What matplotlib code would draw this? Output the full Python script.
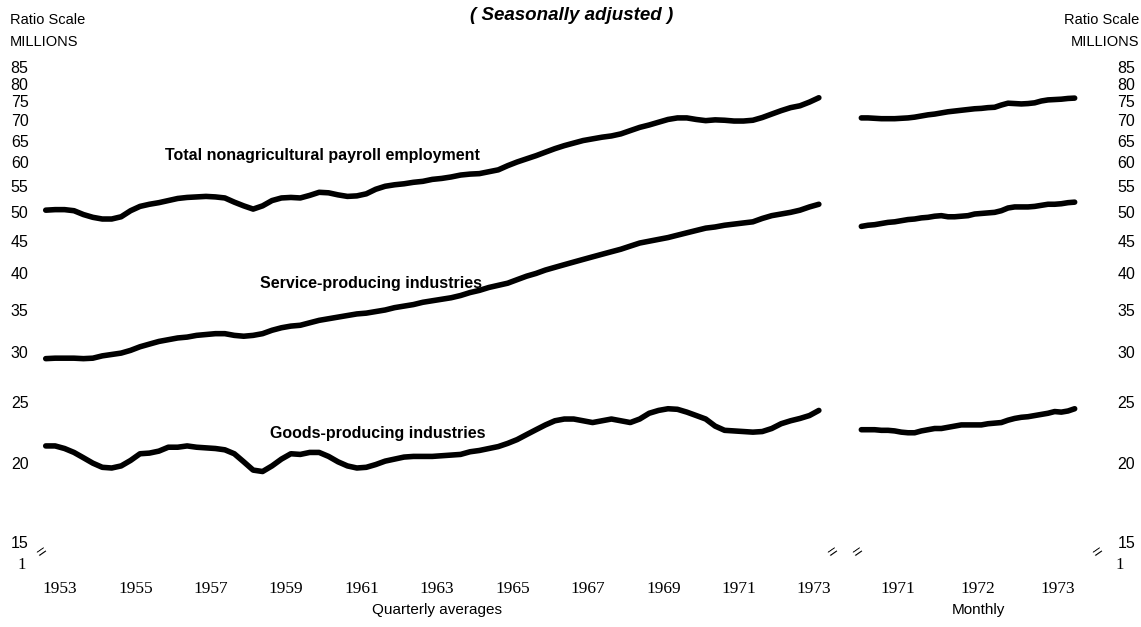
import numpy as np
import matplotlib.pyplot as plt

# quarterly averages, 1953 Q1 - 1973 Q3 (millions)
total_q = [50.4, 50.5, 50.5, 50.3, 49.6, 49.1, 48.8, 48.8, 49.2, 50.3,
           51.1, 51.5, 51.8, 52.2, 52.6, 52.8, 52.9, 53.0, 52.9, 52.7,
           51.9, 51.2, 50.6, 51.2, 52.2, 52.7, 52.8, 52.7, 53.2, 53.8,
           53.7, 53.3, 53.0, 53.1, 53.5, 54.4, 55.0, 55.3, 55.5, 55.8,
           56.0, 56.4, 56.6, 56.9, 57.3, 57.5, 57.6, 58.0, 58.4, 59.3,
           60.1, 60.8, 61.5, 62.3, 63.1, 63.8, 64.4, 65.0, 65.4, 65.8,
           66.1, 66.6, 67.4, 68.2, 68.8, 69.5, 70.2, 70.6, 70.6, 70.2,
           69.9, 70.1, 70.0, 69.8, 69.8, 70.0, 70.7, 71.6, 72.5, 73.3,
           73.8, 74.8, 76.0]
service_q = [29.3, 29.35, 29.35, 29.35, 29.3, 29.35, 29.6, 29.75, 29.9, 30.2,
             30.6, 30.9, 31.2, 31.4, 31.6, 31.7, 31.9, 32.0, 32.1, 32.1,
             31.9, 31.8, 31.9, 32.1, 32.5, 32.8, 33.0, 33.1, 33.4, 33.7,
             33.9, 34.1, 34.3, 34.5, 34.6, 34.8, 35.0, 35.3, 35.5, 35.7,
             36.0, 36.2, 36.4, 36.6, 36.9, 37.3, 37.6, 38.0, 38.3, 38.6,
             39.1, 39.6, 40.0, 40.5, 40.9, 41.3, 41.7, 42.1, 42.5, 42.9,
             43.3, 43.7, 44.2, 44.7, 45.0, 45.3, 45.6, 46.0, 46.4, 46.8,
             47.2, 47.4, 47.7, 47.9, 48.1, 48.3, 48.9, 49.4, 49.7, 50.0,
             50.4, 51.0, 51.5]
goods_q = [21.3, 21.3, 21.1, 20.8, 20.4, 20.0, 19.7, 19.65, 19.8, 20.2,
           20.7, 20.75, 20.9, 21.2, 21.2, 21.3, 21.2, 21.15, 21.1, 21.0,
           20.7, 20.1, 19.5, 19.4, 19.8, 20.3, 20.7, 20.65, 20.8, 20.8,
           20.5, 20.1, 19.8, 19.65, 19.7, 19.9, 20.15, 20.3, 20.45, 20.5,
           20.5, 20.5, 20.55, 20.6, 20.65, 20.85, 20.95, 21.1, 21.25, 21.5,
           21.8, 22.2, 22.6, 23.0, 23.35, 23.5, 23.5, 23.35, 23.2, 23.35,
           23.5, 23.35, 23.2, 23.5, 24.0, 24.25, 24.4, 24.35, 24.1, 23.8,
           23.5, 22.9, 22.55, 22.5, 22.45, 22.4, 22.45, 22.7, 23.1, 23.35,
           23.55, 23.8, 24.25]

# monthly, Jan 1971 - Sep 1973 (millions)
total_m = [70.6, 70.6, 70.5, 70.4, 70.4, 70.4, 70.5, 70.6, 70.8, 71.1,
           71.4, 71.6, 71.9, 72.2, 72.4, 72.6, 72.8, 73.0, 73.1, 73.3,
           73.4, 74.0, 74.5, 74.4, 74.3, 74.4, 74.6, 75.1, 75.4, 75.5,
           75.6, 75.8, 75.9]
service_m = [47.5, 47.7, 47.8, 48.0, 48.2, 48.3, 48.5, 48.7, 48.8, 49.0,
             49.1, 49.3, 49.4, 49.2, 49.2, 49.3, 49.4, 49.7, 49.8, 49.9,
             50.0, 50.3, 50.8, 51.0, 51.0, 51.0, 51.1, 51.3, 51.5, 51.5,
             51.6, 51.8, 51.9]
goods_m = [22.6, 22.6, 22.6, 22.55, 22.55, 22.5, 22.4, 22.35, 22.35, 22.5,
           22.6, 22.7, 22.7, 22.8, 22.9, 23.0, 23.0, 23.0, 23.0, 23.1,
           23.15, 23.2, 23.4, 23.55, 23.65, 23.7, 23.8, 23.9, 24.0, 24.15,
           24.1, 24.2, 24.4]

y_ticks = [15, 20, 25, 30, 35, 40, 45, 50, 55, 60, 65, 70, 75, 80, 85]
q_years = [1953, 1955, 1957, 1959, 1961, 1963, 1965, 1967, 1969, 1971, 1973]
m_years = [1971, 1972, 1973]

sans = ['Liberation Sans', 'DejaVu Sans']
serif = ['Liberation Serif', 'DejaVu Serif']

W, H = 1141, 627
fig = plt.figure(figsize=(W / 100, H / 100), dpi=100)
ax1 = fig.add_axes([41 / W, 1 - 555 / H, 792 / W, 493 / H])
ax2 = fig.add_axes([858 / W, 1 - 555 / H, 240 / W, 493 / H])

xq = 1953 + 0.125 + 0.25 * np.arange(len(total_q))
xm = 1971 + (np.arange(len(total_m)) + 0.5) / 12

for s in [total_q, service_q, goods_q]:
    ax1.plot(xq, s, color='black', lw=4, solid_capstyle='round', solid_joinstyle='round')
for s in [total_m, service_m, goods_m]:
    ax2.plot(xm, s, color='black', lw=4, solid_capstyle='round', solid_joinstyle='round')

for ax in [ax1, ax2]:
    ax.set_yscale('log')
    ax.set_ylim(14.3, 86.6)
    ax.set_yticks(y_ticks)
    ax.minorticks_off()
    for sp in ax.spines.values():
        sp.set_visible(False)

ax1.set_xlim(1953, 1974)
ax2.set_xlim(1971, 1974)

ax1.set_yticklabels([str(v) for v in y_ticks], family=sans, fontsize=11.5)
ax1.tick_params(axis='y', length=0, pad=9)
ax2.yaxis.tick_right()
ax2.set_yticklabels([str(v) for v in y_ticks], family=sans, fontsize=11.5)
ax2.tick_params(axis='y', length=0, pad=14)

ax1.set_xticks([y + 0.5 for y in q_years])
ax1.set_xticklabels([str(y) for y in q_years], family=serif, fontsize=12.5)
ax2.set_xticks([y + 0.5 for y in m_years])
ax2.set_xticklabels([str(y) for y in m_years], family=serif, fontsize=12.5)
for ax in [ax1, ax2]:
    ax.tick_params(axis='x', length=0, pad=19)

ax1.set_xlabel('Quarterly averages', family=sans, fontsize=11, labelpad=4)
ax2.set_xlabel('Monthly', family=sans, fontsize=11, labelpad=4)

# series labels
ax1.text(1956.29, 61.6, 'Total nonagricultural payroll employment', family=sans,
         fontsize=11.5, fontweight='bold', va='center', ha='left')
ax1.text(1958.81, 38.6, 'Service-producing industries', family=sans,
         fontsize=11.5, fontweight='bold', va='center', ha='left')
ax1.text(1959.07, 22.26, 'Goods-producing industries', family=sans,
         fontsize=11.5, fontweight='bold', va='center', ha='left')

# header texts
fig.text(572 / W, 1 - 15 / H, '( Seasonally adjusted )', family=sans, fontsize=13.5,
         fontweight='bold', fontstyle='italic', ha='center', va='center')
fig.text(10 / W, 1 - 20 / H, 'Ratio Scale', family=sans, fontsize=10.5, va='center')
fig.text(10 / W, 1 - 42 / H, 'MILLIONS', family=sans, fontsize=10.5, va='center')
fig.text(1139 / W, 1 - 20 / H, 'Ratio Scale', family=sans, fontsize=10.5, va='center', ha='right')
fig.text(1139 / W, 1 - 42 / H, 'MILLIONS', family=sans, fontsize=10.5, va='center', ha='right')

# broken-scale marks and the origin "1"
fig.text(22 / W, 1 - 565 / H, '1', family=serif, fontsize=12, ha='center', va='center')
fig.text(1120 / W, 1 - 565 / H, '1', family=serif, fontsize=12, ha='center', va='center')
for px in [42, 833, 858, 1098]:
    fig.text(px / W, 1 - 553 / H, '=', family=sans, fontsize=12, rotation=35,
             ha='center', va='center')

fig.savefig('out.png', dpi=100)
